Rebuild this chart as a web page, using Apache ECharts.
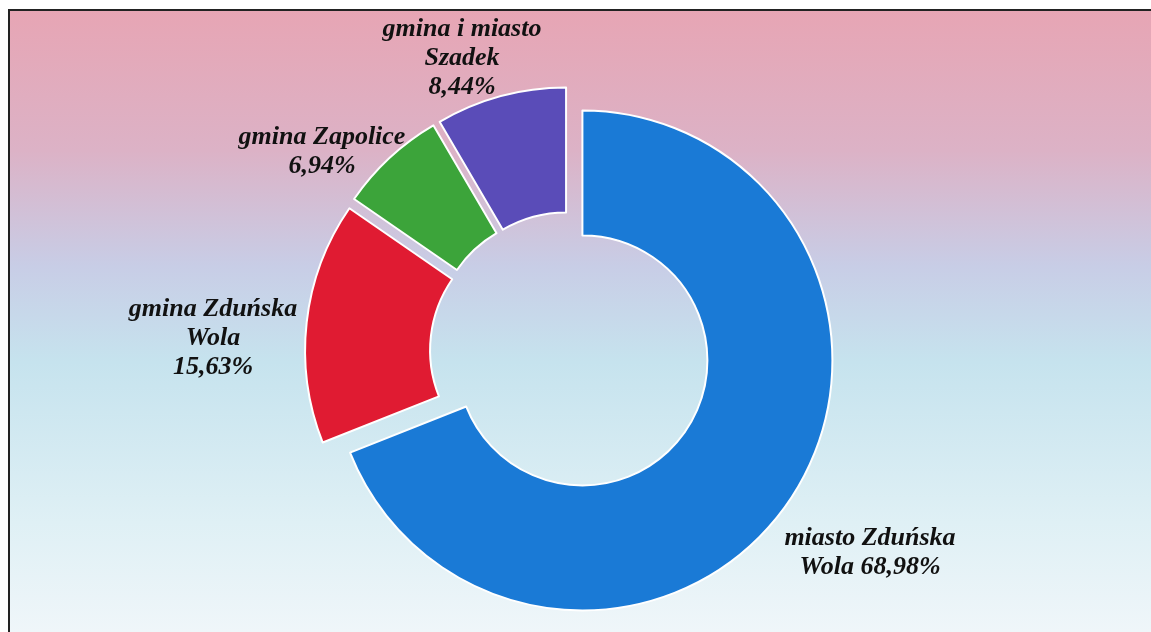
<!DOCTYPE html>
<html>
<head>
<meta charset="utf-8">
<script src="https://cdn.jsdelivr.net/npm/echarts@6/dist/echarts.min.js"></script>
<style>
  html, body { margin: 0; padding: 0; background: #ffffff; }
  #main { width: 1151px; height: 632px; }
</style>
</head>
<body>
<div id="main"></div>
<script>
// udział gmin (%)
const names = ['miasto Zduńska\nWola', 'gmina Zduńska\nWola', 'gmina Zapolice', 'gmina i miasto\nSzadek'];
const values = [68.98, 15.63, 6.94, 8.44];
const colors = ['#1a7ad6', '#e01b32', '#3ca43a', '#5a4cb8'];

// label centres (px)
const labelPos = [[870, 553], [213, 338], [322, 152], [462, 58]];

function labelText(i) {
    let pct = values[i].toFixed(2).replace('.', ',') + '%';
    return i === 0 ? names[i] + ' ' + pct : names[i] + '\n' + pct;
}

let labels = values.map((v, i) => ({
    type: 'text',
    z: 10,
    x: labelPos[i][0],
    y: labelPos[i][1],
    style: {
        text: labelText(i),
        font: 'italic bold 26px "Liberation Serif", "DejaVu Serif", serif',
        lineHeight: 29,
        fill: '#111',
        align: 'center',
        verticalAlign: 'middle'
    }
}));

let myChart = echarts.init(document.getElementById('main'));
myChart.setOption({
    animation: false,
    graphic: [{
        type: 'rect',
        z: 0,
        shape: { x: 9, y: 10, width: 1160, height: 640 },
        style: {
            fill: new echarts.graphic.LinearGradient(0, 0, 0, 1, [
                { offset: 0, color: '#e7a5b4' },
                { offset: 0.22, color: '#dcb2c6' },
                { offset: 0.4, color: '#c8cde6' },
                { offset: 0.55, color: '#c6e3ee' },
                { offset: 0.8, color: '#dff0f5' },
                { offset: 1, color: '#f2f7fa' }
            ]),
            stroke: '#222',
            lineWidth: 2
        }
    }].concat(labels),
    series: [{
        type: 'pie',
        z: 2,
        center: [570, 352],
        radius: [125, 250],
        startAngle: 90,
        clockwise: true,
        selectedMode: 'multiple',
        selectedOffset: 15,
        emphasis: { disabled: true },
        itemStyle: { borderColor: '#ffffff', borderWidth: 2 },
        data: values.map((v, i) => ({
            value: v,
            name: names[i],
            selected: true,
            itemStyle: { color: colors[i] }
        })),
        label: { show: false },
        labelLine: { show: false }
    }]
});
</script>
</body>
</html>
